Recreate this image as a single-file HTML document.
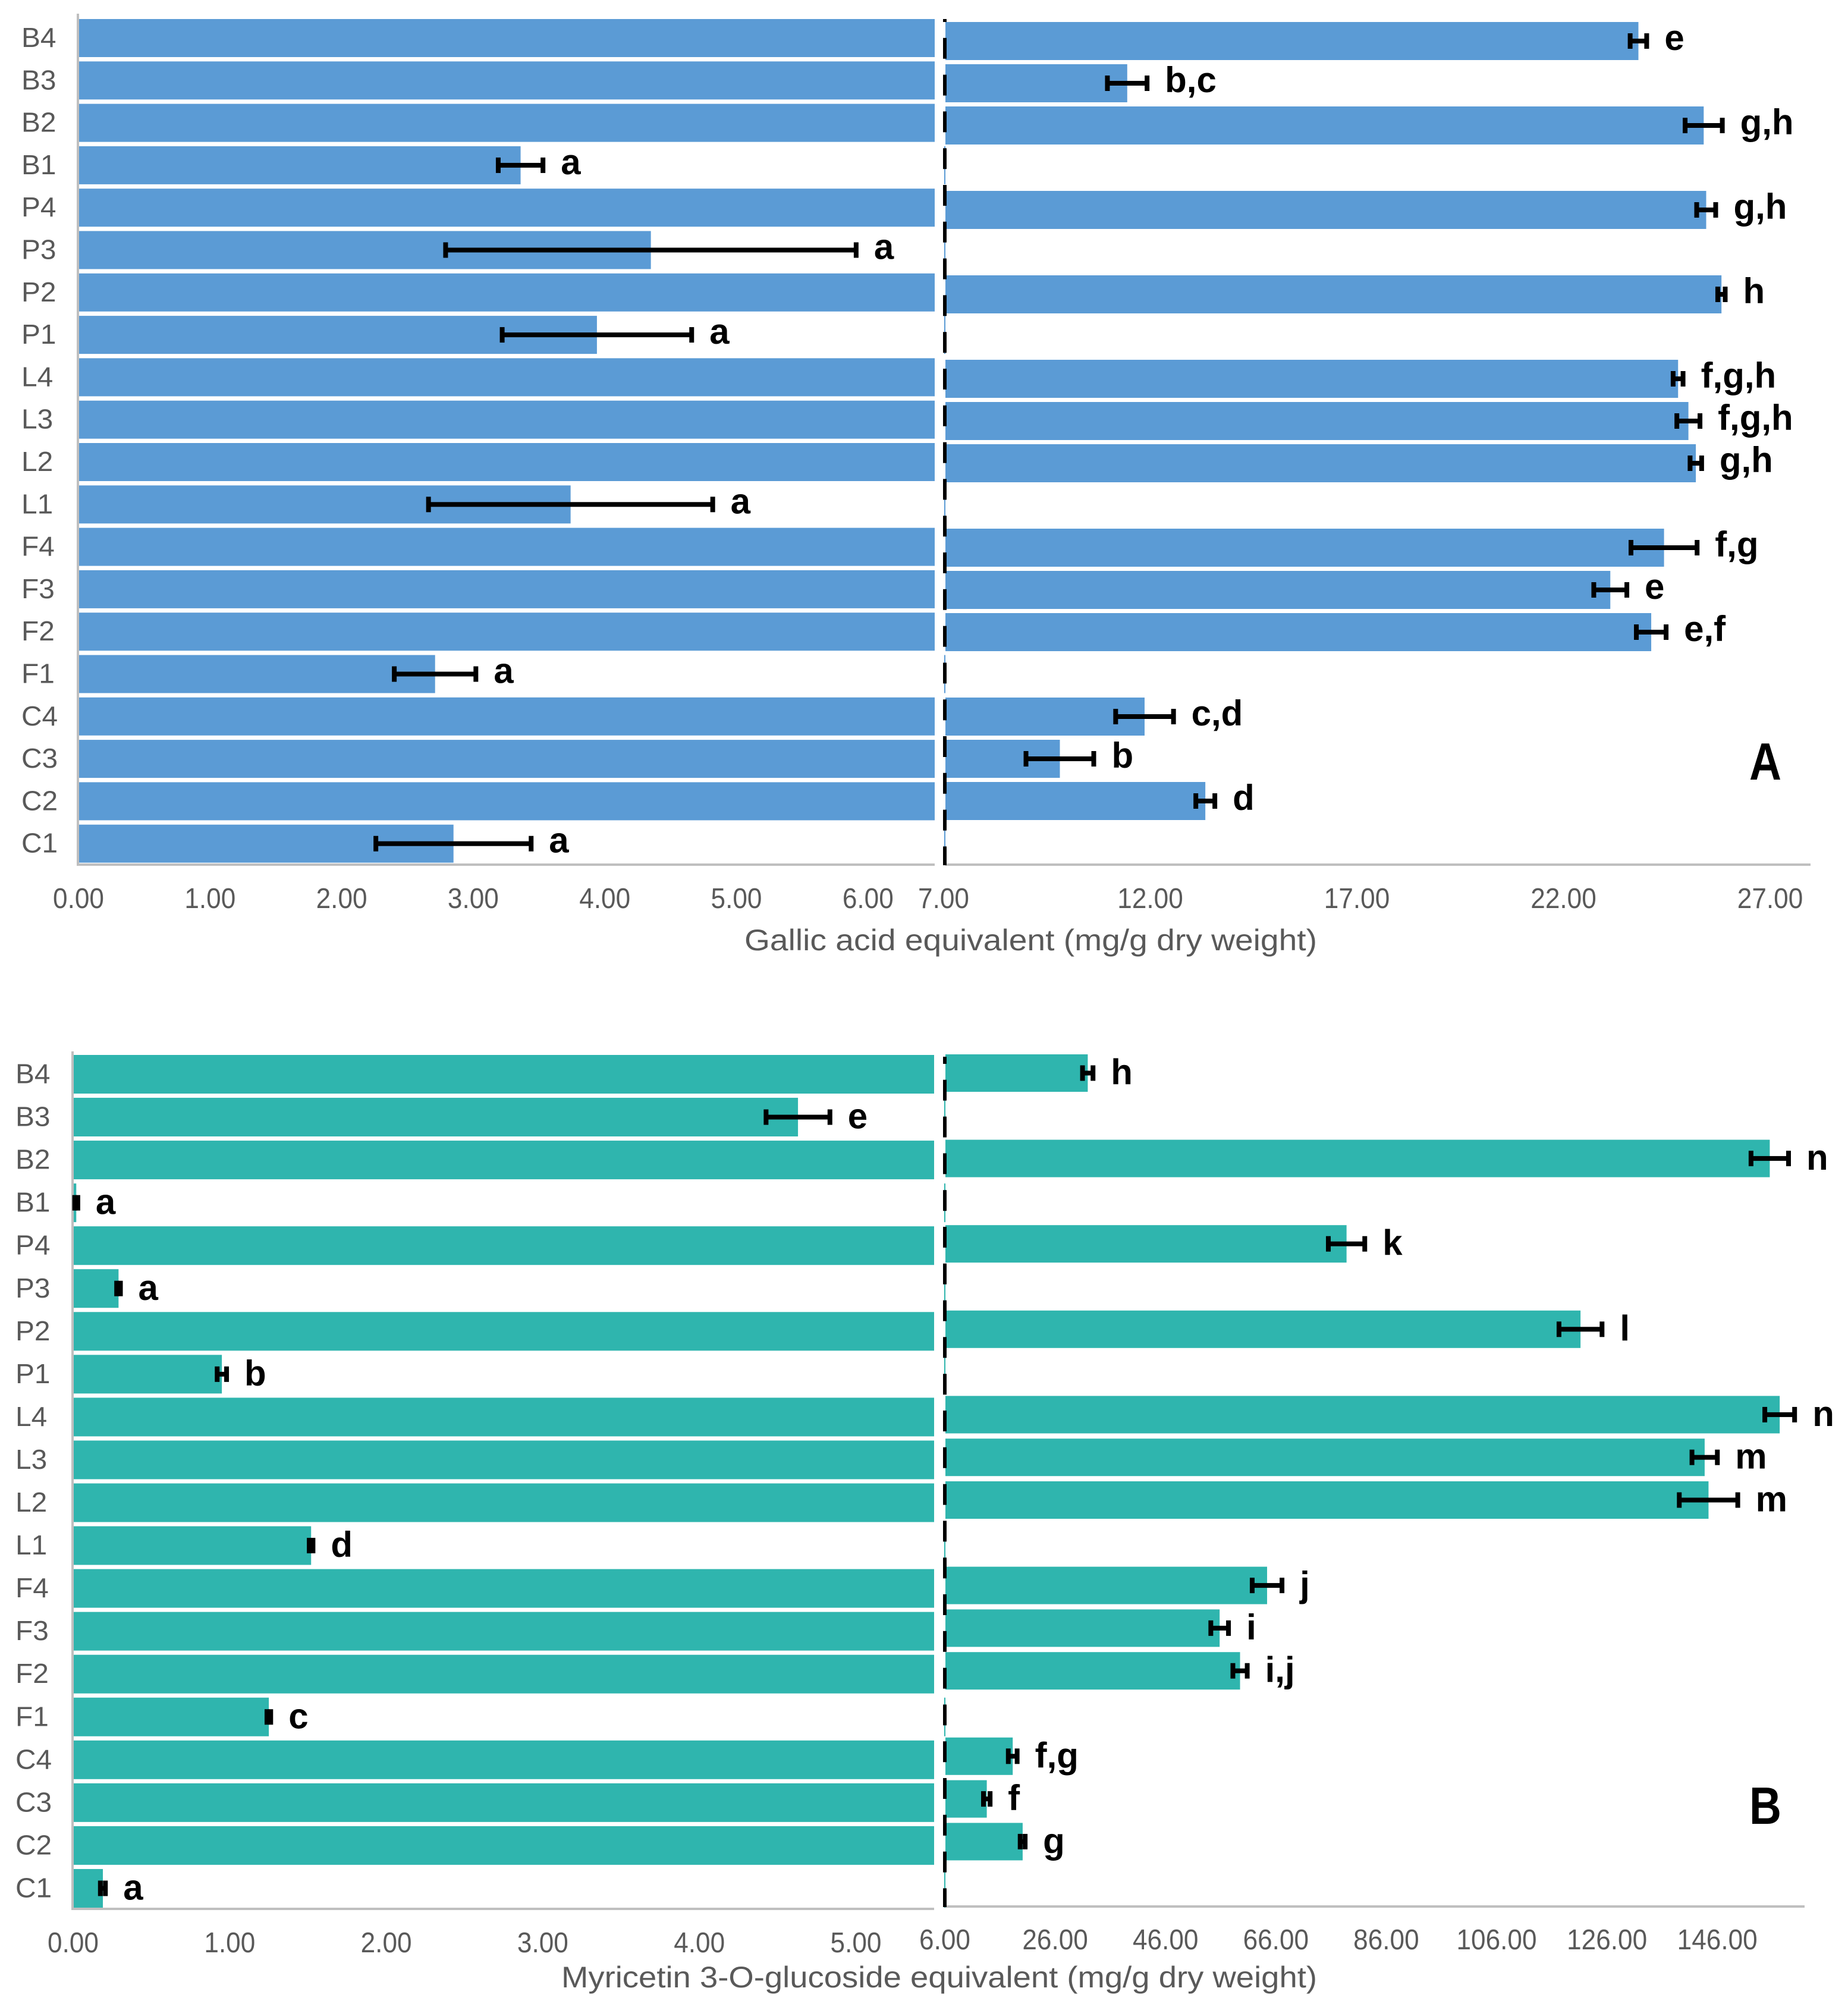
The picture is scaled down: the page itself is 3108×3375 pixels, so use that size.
<!DOCTYPE html>
<html lang="en">
<head>
<meta charset="utf-8">
<title>Gallic acid and myricetin 3-O-glucoside equivalents</title>
<style>
html,body{margin:0;padding:0;background:#fff}
svg{display:block;font-family:"Liberation Sans",sans-serif}
</style>
</head>
<body>
<svg id="figure" xmlns="http://www.w3.org/2000/svg" width="3108" height="3375" viewBox="0 0 3108 3375"></svg>
<script>
const categories = ['B4','B3','B2','B1','P4','P3','P2','P1','L4','L3','L2','L1','F4','F3','F2','F1','C4','C3','C2','C1'];

const gallicValues = [23.77,11.40,25.35,3.36,25.41,4.35,25.78,3.94,24.73,24.98,25.16,3.74,24.39,23.09,24.08,2.71,11.82,9.77,13.29,2.85];
const gallicErrors = [0.20,0.48,0.45,0.17,0.23,1.56,0.09,0.72,0.12,0.28,0.14,1.08,0.80,0.40,0.36,0.31,0.70,0.82,0.23,0.59];
const gallicLetters = ['e','b,c','g,h','a','g,h','a','h','a','f,g,h','f,g,h','g,h','a','f,g','e','e,f','a','c,d','b','d','a'];
const gallicLeftTicks = [0,1,2,3,4,5,6];
const gallicRightTicks = [7,12,17,22,27];

const myricetinValues = [31.8,4.63,155.4,0.02,78.7,0.29,121.1,0.95,157.2,143.6,144.3,1.52,64.3,55.7,59.4,1.25,18.2,13.5,20.0,0.19];
const myricetinErrors = [0.95,0.204,3.4,0.01,3.3,0.012,3.9,0.03,2.7,2.3,5.3,0.012,2.7,1.6,1.3,0.012,0.8,0.6,0.45,0.016];
const myricetinLetters = ['h','e','n','a','k','a','l','b','n','m','m','d','j','i','i,j','c','f,g','f','g','a'];
const myricetinLeftTicks = [0,1,2,3,4,5];
const myricetinRightTicks = [6,26,46,66,86,106,126,146];

const SVG_NS = 'http://www.w3.org/2000/svg';
const figure = document.getElementById('figure');

function add(parent, tag, attrs, name) {
  const el = document.createElementNS(SVG_NS, tag);
  
  
  Object.keys(attrs).forEach(function (k) { el.setAttribute(k, attrs[k]); });
  parent.appendChild(el);
  return el;
}

function text(parent, str, x, y, size, opts, name) {
  const o = opts || {};
  const attrs = {
    transform: 'translate(' + x + ' ' + y + ') scale(' + (o.sx || 1) + ' 1)',
    'font-size': size,
    fill: o.fill || '#595959',
    'text-anchor': o.anchor || 'start',
    'font-weight': o.weight || 'normal'
  };
  const el = add(parent, 'text', attrs, name);
  el.textContent = str;
  return el;
}

function drawPanel(cfg) {
  const g = add(figure, 'g', {}, cfg.name);
  const xLeft = function (v) { return cfg.leftX0 + cfg.leftScale * v; };
  const xRight = function (v) { return cfg.rightX0 + cfg.rightScale * (v - cfg.breakValue); };
  const yLeft = function (i) { return cfg.leftTop + cfg.leftPitch * i; };
  const yRight = function (i) { return cfg.rightTop + cfg.rightPitch * i; };
  const bars = add(g, 'g', {}, 'bars');

  cfg.values.forEach(function (v, i) {
    const cat = categories[i].toLowerCase();
    const leftEnd = Math.min(xLeft(v), cfg.leftClip);
    add(bars, 'rect', { x: cfg.leftX0, y: yLeft(i), width: leftEnd - cfg.leftX0, height: cfg.leftHeight, fill: cfg.color }, 'bar-left-' + cat);
    if (v >= cfg.breakValue) {
      add(bars, 'rect', { x: cfg.rightX0, y: yRight(i), width: xRight(v) - cfg.rightX0, height: cfg.rightHeight, fill: cfg.color }, 'bar-right-' + cat);
    } else {
      add(bars, 'rect', { x: cfg.rightX0 - 2, y: yLeft(i), width: 2, height: cfg.leftHeight, fill: cfg.color }, 'bar-stub-' + cat);
    }
    text(g, categories[i], cfg.catX, yLeft(i) + cfg.leftHeight / 2 + 15, 46, { sx: 1.04 }, 'category-label-' + cat);
  });

  add(g, 'rect', { x: cfg.leftX0 - 3, y: cfg.axisTop, width: 4, height: cfg.leftAxisY - cfg.axisTop + 2, fill: '#bfbfbf' }, 'y-axis-line');
  add(g, 'rect', { x: cfg.leftX0 - 3, y: cfg.leftAxisY - 2, width: cfg.leftClip - cfg.leftX0 + 3, height: 4, fill: '#bfbfbf' }, 'x-axis-left-line');
  add(g, 'rect', { x: cfg.rightX0, y: cfg.rightAxisY - 2, width: cfg.rightAxisEnd - cfg.rightX0, height: 4, fill: '#bfbfbf' }, 'x-axis-right-line');

  add(g, 'line', {
    x1: cfg.rightX0 - 1, x2: cfg.rightX0 - 1, y1: cfg.axisTop + 9, y2: cfg.rightAxisY + 1,
    stroke: '#000', 'stroke-width': 6, 'stroke-dasharray': '35 26.8', 'stroke-dashoffset': cfg.dashOffset
  }, 'axis-break-line');

  cfg.leftTicks.forEach(function (t) {
    text(g, t.toFixed(2), xLeft(t), cfg.leftTickY, 48, { anchor: 'middle', sx: 0.92 }, 'x-tick-left-' + t);
  });
  cfg.rightTicks.forEach(function (t) {
    text(g, t.toFixed(2), xRight(t) + cfg.rightTickShift, cfg.rightTickY, 48, { anchor: 'middle', sx: 0.92 }, 'x-tick-right-' + t);
  });

  const title = add(g, 'text', {
    x: cfg.titleX, y: cfg.titleY, 'font-size': 50, fill: '#595959',
    textLength: cfg.titleWidth, lengthAdjust: 'spacingAndGlyphs'
  }, 'x-axis-title');
  title.textContent = cfg.title;

  cfg.values.forEach(function (v, i) {
    const cat = categories[i].toLowerCase();
    const onRight = v >= cfg.breakValue;
    const sx = onRight ? xRight : xLeft;
    const cy = onRight ? yRight(i) + cfg.rightHeight / 2 : yLeft(i) + cfg.leftHeight / 2;
    const lo = sx(v - cfg.errors[i]);
    const hi = sx(v + cfg.errors[i]);
    const eg = add(g, 'g', { fill: '#000' }, 'error-bar-' + cat);
    add(eg, 'rect', { x: lo, y: cy - 4, width: hi - lo, height: 8 }, 'error-line');
    add(eg, 'rect', { x: lo - 4, y: cy - 13, width: 8, height: 26 }, 'error-cap-low');
    add(eg, 'rect', { x: hi - 4, y: cy - 13, width: 8, height: 26 }, 'error-cap-high');
    text(g, cfg.letters[i], hi + 30, cy + cfg.letterDy, 60, { fill: '#000', weight: 'bold' }, 'significance-letter-' + cat);
  });

  text(g, cfg.panelLetter, cfg.panelLetterX, cfg.panelLetterY, 88, { fill: '#000', weight: 'bold', sx: 0.85 }, 'panel-letter');
}

drawPanel({
  name: 'panel-a-gallic-acid',
  values: gallicValues, errors: gallicErrors, letters: gallicLetters,
  leftTicks: gallicLeftTicks, rightTicks: gallicRightTicks,
  color: '#5b9bd5',
  breakValue: 7,
  leftX0: 132, leftScale: 221.3, leftClip: 1572,
  rightX0: 1590, rightScale: 69.5, rightAxisEnd: 3045, rightTickShift: -3,
  leftTop: 32, leftPitch: 71.3, leftHeight: 64,
  rightTop: 37, rightPitch: 71, rightHeight: 64,
  axisTop: 23, leftAxisY: 1454, rightAxisY: 1454,
  dashOffset: 30,
  catX: 36, letterDy: 15,
  leftTickY: 1527, rightTickY: 1527,
  title: 'Gallic acid equivalent (mg/g dry weight)',
  titleX: 1252, titleY: 1598, titleWidth: 963,
  panelLetter: 'A', panelLetterX: 2942, panelLetterY: 1311
});

drawPanel({
  name: 'panel-b-myricetin',
  values: myricetinValues, errors: myricetinErrors, letters: myricetinLetters,
  leftTicks: myricetinLeftTicks, rightTicks: myricetinRightTicks,
  color: '#2fb5ae',
  breakValue: 6,
  leftX0: 123, leftScale: 263.3, leftClip: 1571,
  rightX0: 1590, rightScale: 9.28, rightAxisEnd: 3035, rightTickShift: -1,
  leftTop: 1774, leftPitch: 72.05, leftHeight: 65,
  rightTop: 1773, rightPitch: 71.8, rightHeight: 63,
  axisTop: 1768, leftAxisY: 3210, rightAxisY: 3206,
  dashOffset: 23,
  catX: 26, letterDy: 19,
  leftTickY: 3283, rightTickY: 3278,
  title: 'Myricetin 3-O-glucoside equivalent (mg/g dry weight)',
  titleX: 944, titleY: 3342, titleWidth: 1271,
  panelLetter: 'B', panelLetterX: 2942, panelLetterY: 3067
});
</script>
</body>
</html>
